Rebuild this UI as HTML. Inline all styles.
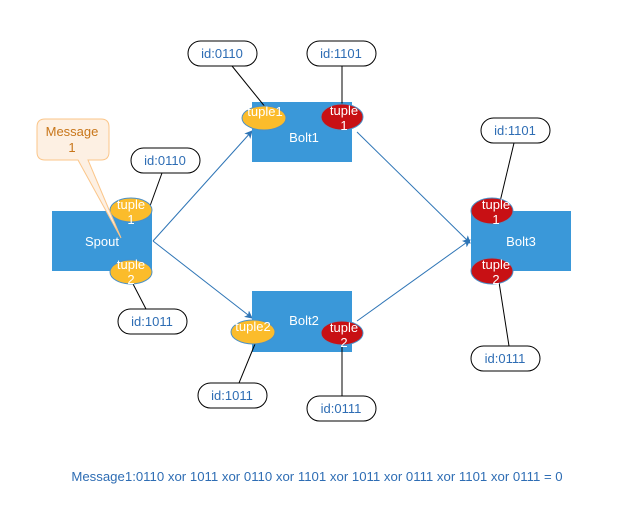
<!DOCTYPE html>
<html><head><meta charset="utf-8"><style>
html,body{margin:0;padding:0;background:#fff;}
svg{display:block;font-family:"Liberation Sans",sans-serif;}
</style></head><body>
<svg width="632" height="518" viewBox="0 0 632 518" xmlns="http://www.w3.org/2000/svg">
<defs>
<marker id="ar" markerWidth="8" markerHeight="8" refX="7" refY="4" orient="auto" markerUnits="userSpaceOnUse">
<path d="M0,0 L8,4 L0,8 L2,4 Z" fill="#2e75b6"/>
</marker>
</defs>
<g stroke="#2e75b6" stroke-width="1" fill="none">
<line x1="153" y1="241" x2="252" y2="131" marker-end="url(#ar)"/>
<line x1="153" y1="241" x2="252" y2="318" marker-end="url(#ar)"/>
<line x1="357" y1="132" x2="470" y2="243" marker-end="url(#ar)"/>
<line x1="357" y1="321" x2="470" y2="240" marker-end="url(#ar)"/>
</g>
<g fill="#3a98d9">
<rect x="52" y="211" width="100" height="60"/>
<rect x="252" y="102" width="100" height="60"/>
<rect x="252" y="291" width="100" height="61"/>
<rect x="471" y="211" width="100" height="60"/>
</g>
<g stroke="#000" stroke-width="1">
<line x1="232" y1="66" x2="266" y2="108"/>
<line x1="342" y1="66" x2="342" y2="106"/>
<line x1="162" y1="173" x2="150" y2="206"/>
<line x1="132" y1="282" x2="146" y2="309"/>
<line x1="255" y1="344" x2="239" y2="383"/>
<line x1="342" y1="344" x2="342" y2="396"/>
<line x1="514" y1="143" x2="499" y2="206"/>
<line x1="499" y1="282" x2="509" y2="346"/>
</g>
<g stroke="#4a90c8" stroke-width="1">
<ellipse cx="131" cy="210" rx="21" ry="12" fill="#fbbc2b"/>
<ellipse cx="131" cy="272" rx="21" ry="12" fill="#fbbc2b"/>
<ellipse cx="264" cy="118" rx="22" ry="12" fill="#fbbc2b"/>
<ellipse cx="342" cy="117" rx="21" ry="13" fill="#c81014"/>
<ellipse cx="253" cy="332" rx="22" ry="12" fill="#fbbc2b"/>
<ellipse cx="342" cy="333" rx="21" ry="12" fill="#c81014"/>
<ellipse cx="492" cy="211" rx="21" ry="13" fill="#c81014"/>
<ellipse cx="492" cy="271" rx="21" ry="13" fill="#c81014"/>
</g>
<g fill="#fff" font-size="13" text-anchor="middle">
<text x="102" y="246">Spout</text>
<text x="304" y="142">Bolt1</text>
<text x="304" y="325">Bolt2</text>
<text x="521" y="246">Bolt3</text>
<text x="131" y="209">tuple</text><text x="131" y="224">1</text>
<text x="131" y="269">tuple</text><text x="131" y="284">2</text>
<text x="265" y="116">tuple1</text>
<text x="344" y="115">tuple</text><text x="344" y="130">1</text>
<text x="253" y="331">tuple2</text>
<text x="344" y="332">tuple</text><text x="344" y="347">2</text>
<text x="496" y="209">tuple</text><text x="496" y="224">1</text>
<text x="496" y="269">tuple</text><text x="496" y="284">2</text>
</g>
<g fill="#fff" stroke="#000" stroke-width="1">
<rect x="188" y="41" width="69" height="25" rx="12.5"/>
<rect x="307" y="41" width="69" height="25" rx="12.5"/>
<rect x="131" y="148" width="69" height="25" rx="12.5"/>
<rect x="118" y="309" width="69" height="25" rx="12.5"/>
<rect x="198" y="383" width="69" height="25" rx="12.5"/>
<rect x="307" y="396" width="69" height="25" rx="12.5"/>
<rect x="481" y="118" width="69" height="25" rx="12.5"/>
<rect x="471" y="346" width="69" height="25" rx="12.5"/>
</g>
<g fill="#2e6db4" font-size="13" text-anchor="middle">
<text x="222" y="58">id:0110</text>
<text x="341" y="58">id:1101</text>
<text x="165" y="165">id:0110</text>
<text x="152" y="326">id:1011</text>
<text x="232" y="400">id:1011</text>
<text x="341" y="413">id:0111</text>
<text x="515" y="135">id:1101</text>
<text x="505" y="363">id:0111</text>
</g>
<path d="M45,119 H101 Q109,119 109,127 V152 Q109,160 101,160 H88 L121,238 L78,160 H45 Q37,160 37,152 V127 Q37,119 45,119 Z" fill="#fdf0e3" stroke="#fbc68a" stroke-width="1"/>
<g fill="#c8761a" font-size="13" text-anchor="middle">
<text x="72" y="136">Message</text>
<text x="72" y="152">1</text>
</g>
<text x="317" y="481" fill="#2e6db4" font-size="13.2" text-anchor="middle">Message1:0110 xor 1011 xor 0110 xor 1101 xor 1011 xor 0111 xor 1101 xor 0111 = 0</text>
</svg>
</body></html>
